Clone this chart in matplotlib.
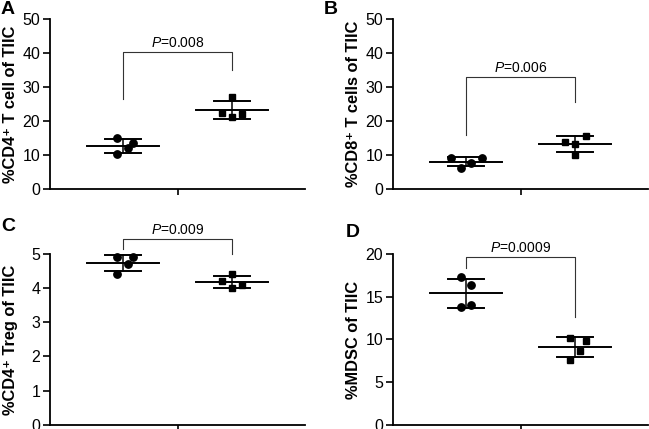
import matplotlib
matplotlib.use('Agg')
import matplotlib.pyplot as plt
import numpy as np

plt.rcParams['font.family'] = ['Liberation Sans', 'DejaVu Sans']
plt.rcParams['mathtext.fontset'] = 'custom'
plt.rcParams['mathtext.rm'] = 'Liberation Sans'
plt.rcParams['mathtext.it'] = 'Liberation Sans:italic'
plt.rcParams['mathtext.bf'] = 'Liberation Sans:bold'

# Data (4 mice per group)
panel_letters = ['A', 'B', 'C', 'D']
ylabels = ['%CD4\u207a T cell of TIIC',
           '%CD8\u207a T cells of TIIC',
           '%CD4\u207a Treg of TIIC',
           '%MDSC of TIIC']
group1_vals = [[15.2, 13.5, 12.2, 10.3],
               [9.1, 9.1, 7.6, 6.4],
               [4.91, 4.91, 4.71, 4.41],
               [17.3, 16.35, 13.85, 14.1]]
group2_vals = [[27.1, 22.5, 22.2, 21.1],
               [15.7, 13.8, 13.3, 10.1],
               [4.41, 4.21, 4.10, 4.02],
               [10.2, 9.8, 8.7, 7.6]]
p_texts = ['0.008', '0.006', '0.009', '0.0009']
ymax = [50, 50, 5, 20]
ytick_step = [10, 10, 1, 5]
# bracket: top, left leg bottom, right leg bottom
brackets = [(40.2, 26.5, 35.1),
            (33.0, 16.0, 25.5),
            (5.45, 5.16, 5.0),
            (19.65, 18.4, 12.6)]

# horizontal jitter of the dots (x units)
jit1 = [[-0.055, 0.09, 0.045, -0.055],
        [-0.14, 0.145, 0.045, -0.045],
        [-0.055, 0.09, 0.045, -0.055],
        [-0.045, 0.045, -0.045, 0.045]]
jit2 = [[0.0, -0.09, 0.09, 0.0],
        [0.10, -0.09, 0.0, 0.0],
        [0.0, -0.09, 0.09, 0.0],
        [-0.045, 0.10, 0.05, -0.045]]

W, H = 649, 429
fig = plt.figure(figsize=(W / 100, H / 100), dpi=100)

ax_pos = [(50, 19), (393, 19), (50, 254.3), (393, 254.3)]  # left, top in px
letter_pos = [(1, 1), (324, 1), (1, 218), (346, 224)]
AX_W, AX_H = 255, 170.3

for i in range(4):
    lx, ty = ax_pos[i]
    ax = fig.add_axes([lx / W, (H - ty - AX_H) / H, AX_W / W, AX_H / H])
    for g, (vals, jit, mk) in enumerate([(group1_vals[i], jit1[i], 'o'),
                                         (group2_vals[i], jit2[i], 's')]):
        x0 = g + 1
        vals = np.array(vals)
        m = vals.mean()
        sd = vals.std(ddof=1)
        ax.plot(x0 + np.array(jit), vals, mk, color='black', ms=5.3 if mk == 'o' else 4.8,
                clip_on=False, zorder=3)
        ax.plot([x0 - 0.33, x0 + 0.33], [m, m], color='black', lw=1.4, clip_on=False)
        ax.plot([x0, x0], [m - sd, m + sd], color='black', lw=1.1, clip_on=False)
        for yy in (m - sd, m + sd):
            ax.plot([x0 - 0.165, x0 + 0.165], [yy, yy], color='black', lw=1.4, clip_on=False)

    top, lb, rb = brackets[i]
    ax.plot([1, 1, 2, 2], [lb, top, top, rb], color='#333333', lw=0.8, clip_on=False)
    ax.annotate('$P$=' + p_texts[i], (1.5, top), xytext=(0, 1.5), textcoords='offset points',
                ha='center', va='bottom', fontsize=10, annotation_clip=False)

    ax.set_xlim(0.33, 2.67)
    ax.set_ylim(0, ymax[i])
    ax.set_xticks([1.5])
    ax.set_xticklabels([''])
    ax.set_yticks(np.arange(0, ymax[i] + 0.001, ytick_step[i]))
    ax.tick_params(axis='y', labelsize=11.5, length=5, width=1.2, pad=2)
    ax.tick_params(axis='x', length=4, width=1.2)
    for s in ['top', 'right']:
        ax.spines[s].set_visible(False)
    for s in ['left', 'bottom']:
        ax.spines[s].set_linewidth(1.3)
    ax.set_ylabel(ylabels[i], fontsize=11.8, fontweight='bold')
    ax.yaxis.set_label_coords(-0.125, 0.5)

    fig.text(letter_pos[i][0] / W, 1 - letter_pos[i][1] / H, panel_letters[i],
             fontsize=14, fontweight='bold', ha='left', va='top')

fig.savefig('out.png', dpi=100)
